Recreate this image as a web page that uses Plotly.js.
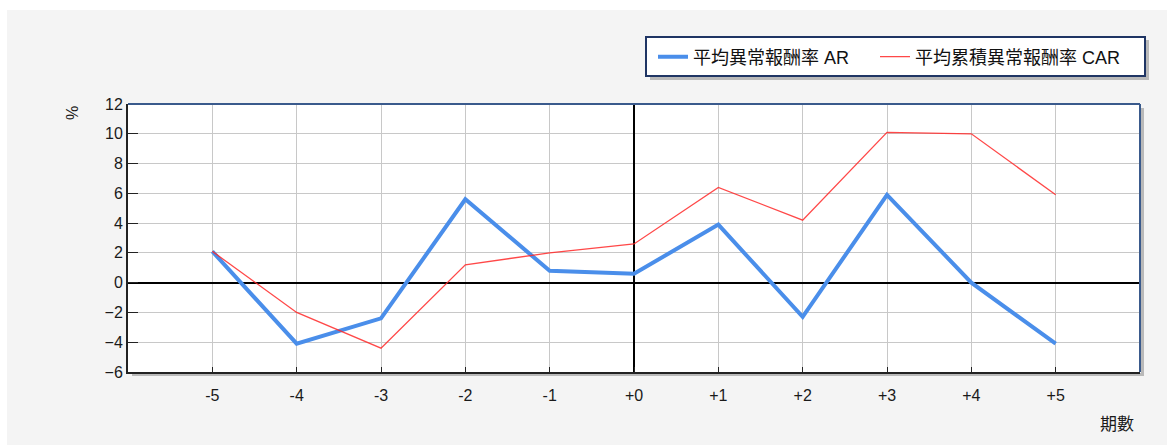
<!DOCTYPE html>
<html>
<head>
<meta charset="utf-8">
<script src="https://cdn.plot.ly/plotly-3.0.1.min.js"></script>
<style>html,body{margin:0;padding:0;background:#fff;}#chart{width:1167px;height:445px;}</style>
</head>
<body>
<div id="chart"></div>
<script>
// Data
const periods = [-5, -4, -3, -2, -1, 0, 1, 2, 3, 4, 5];
const periodLabels = ['-5', '-4', '-3', '-2', '-1', '+0', '+1', '+2', '+3', '+4', '+5'];
const arValues = [2.1, -4.1, -2.4, 5.6, 0.8, 0.6, 3.9, -2.3, 5.9, 0.0, -4.1];
const carValues = [2.1, -2.0, -4.4, 1.2, 2.0, 2.6, 6.4, 4.2, 10.1, 10.0, 5.9];
const yTicks = [-6, -4, -2, 0, 2, 4, 6, 8, 10, 12];
const arName = '平均異常報酬率 AR';
const carName = '平均累積異常報酬率 CAR';
const xTitle = '期數';
const yTitle = '%';

const FONT = 'Liberation Sans, Arial, Noto Sans CJK TC, sans-serif';
const CJK = 'Liberation Sans, Noto Sans CJK TC, sans-serif';
const L = 128, R = 1140, T = 104, B = 372, W = 1167, H = 445;
const pw = R - L, ph = B - T;
const px = x => (x - L) / pw;
const py = y => (B - y) / ph;

const traces = [
  {x: periods, y: arValues, name: arName, type: 'scatter', mode: 'lines',
   line: {color: '#4a8eea', width: 4}, legend: 'legend'},
  {x: periods, y: carValues, name: carName, type: 'scatter', mode: 'lines',
   line: {color: 'rgba(255,40,40,0.85)', width: 1.3}, legend: 'legend2'}
];

const navy = '#3a5a8c';
const legBorder = '#1f3564';
const shadow = '#b9b9b9';
const legendStyle = (xpix) => ({
  orientation: 'h', x: px(xpix), y: py(57), xanchor: 'left', yanchor: 'middle',
  bgcolor: 'rgba(0,0,0,0)', borderwidth: 0,
  font: {family: CJK, size: 18, color: '#111'}
});
const layout = {
  width: W, height: H,
  margin: {l: L, r: W - R, t: T, b: H - B, pad: 0, autoexpand: false},
  paper_bgcolor: '#f4f4f4',
  plot_bgcolor: '#ffffff',
  showlegend: true,
  legend: legendStyle(653),
  legend2: legendStyle(875),
  xaxis: {
    range: [-6, 6], tickvals: periods, ticktext: periodLabels,
    showgrid: true, gridcolor: '#c8c8c8', gridwidth: 1,
    zeroline: true, zerolinecolor: '#000', zerolinewidth: 2,
    showline: true, linecolor: '#222', linewidth: 2,
    ticks: 'inside', ticklen: 5, tickcolor: '#222', tickwidth: 1,
    ticklabelstandoff: 8,
    tickfont: {family: FONT, size: 16, color: '#1a1a1a'},
    fixedrange: true
  },
  yaxis: {
    range: [-6, 12], tickvals: yTicks,
    showgrid: true, gridcolor: '#c8c8c8', gridwidth: 1,
    zeroline: true, zerolinecolor: '#000', zerolinewidth: 2,
    showline: true, linecolor: '#222', linewidth: 2,
    ticks: 'inside', ticklen: 10, tickcolor: '#222', tickwidth: 1,
    tickfont: {family: FONT, size: 16, color: '#1a1a1a'},
    fixedrange: true
  },
  shapes: [
    // white margins top & left
    {type: 'rect', xref: 'paper', yref: 'paper', x0: px(0), x1: px(W), y0: py(0), y1: py(10), fillcolor: '#fff', line: {width: 0}, layer: 'below'},
    {type: 'rect', xref: 'paper', yref: 'paper', x0: px(0), x1: px(7), y0: py(0), y1: py(H), fillcolor: '#fff', line: {width: 0}, layer: 'below'},
    // plot shadow
    {type: 'rect', xref: 'paper', yref: 'paper', x0: px(R + 1), x1: px(R + 4), y0: py(T + 4), y1: py(B + 4), fillcolor: shadow, line: {width: 0}, layer: 'below'},
    {type: 'rect', xref: 'paper', yref: 'paper', x0: px(L + 4), x1: px(R + 4), y0: py(B + 1), y1: py(B + 4), fillcolor: shadow, line: {width: 0}, layer: 'below'},
    // legend shadow
    {type: 'rect', xref: 'paper', yref: 'paper', x0: px(1146), x1: px(1149), y0: py(40), y1: py(80), fillcolor: shadow, line: {width: 0}, layer: 'below'},
    {type: 'rect', xref: 'paper', yref: 'paper', x0: px(650), x1: px(1149), y0: py(77), y1: py(80), fillcolor: shadow, line: {width: 0}, layer: 'below'},
    // legend box
    {type: 'rect', xref: 'paper', yref: 'paper', x0: px(646), x1: px(1145), y0: py(37), y1: py(76), fillcolor: '#fff', line: {color: legBorder, width: 2}, layer: 'below'},
    // top & right frame lines (navy)
    {type: 'line', xref: 'paper', yref: 'paper', x0: 0, x1: 1, y0: 1, y1: 1, line: {color: navy, width: 2}, layer: 'above'},
    {type: 'line', xref: 'paper', yref: 'paper', x0: 1, x1: 1, y0: 0, y1: 1, line: {color: navy, width: 2}, layer: 'above'}
  ],
  annotations: [
    {xref: 'paper', yref: 'paper', x: px(72), y: py(113), text: yTitle, showarrow: false, textangle: -90,
     font: {family: FONT, size: 16, color: '#1a1a1a'}, xanchor: 'center', yanchor: 'middle'},
    {xref: 'paper', yref: 'paper', x: px(1117), y: py(424), text: xTitle, showarrow: false,
     font: {family: CJK, size: 17, color: '#1a1a1a'}, xanchor: 'center', yanchor: 'middle'}
  ]
};

Plotly.newPlot('chart', traces, layout, {displayModeBar: false, staticPlot: true});
</script>
</body>
</html>
